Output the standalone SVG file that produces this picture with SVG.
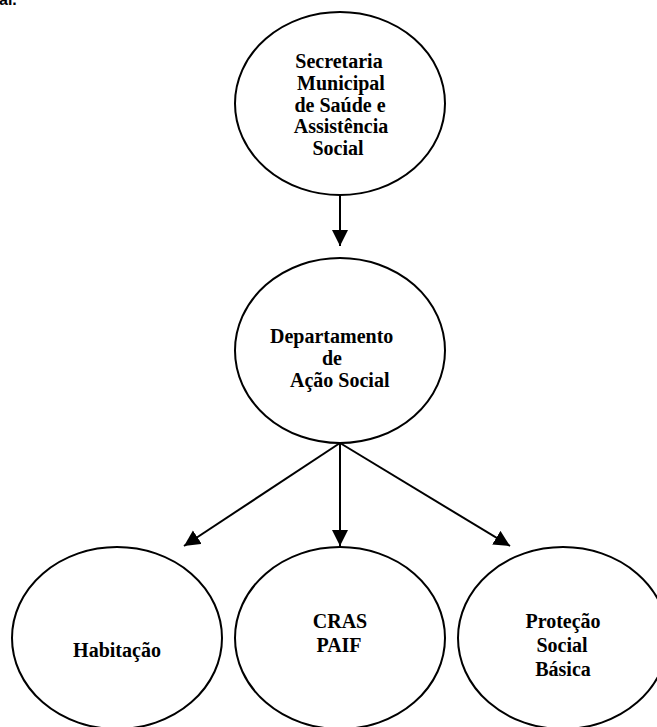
<svg xmlns="http://www.w3.org/2000/svg" width="657" height="727" viewBox="0 0 657 727">
<style>
.node ellipse{fill:#fff;stroke:#000;stroke-width:2}
.lbl{font-family:"Liberation Serif","Times New Roman",serif;font-weight:bold;font-size:20px;fill:#000}
.conn line{stroke:#000;stroke-width:2}
</style>
<defs>
<marker id="ah" markerUnits="userSpaceOnUse" markerWidth="17" markerHeight="17" refX="16" refY="8" orient="auto">
<path d="M0,0 L16,8 L0,16 z" fill="#000"/>
</marker>
</defs>
<rect width="657" height="727" fill="#fff"/>
<text x="-1" y="5" font-family="Liberation Sans, Arial, sans-serif" font-weight="bold" font-size="16">al.</text>
<g id="connectors" class="conn">
<line x1="340" y1="195" x2="340" y2="246" marker-end="url(#ah)"/>
<line x1="340" y1="443" x2="184" y2="546" marker-end="url(#ah)"/>
<line x1="340" y1="443" x2="340" y2="546" marker-end="url(#ah)"/>
<line x1="340" y1="443" x2="510" y2="546" marker-end="url(#ah)"/>
</g>
<g id="secretaria" class="node">
<ellipse cx="340" cy="103.5" rx="105" ry="91.5"/>
<text class="lbl" text-anchor="middle"><tspan x="339" y="68">Secretaria</tspan><tspan x="341" y="90">Municipal</tspan><tspan x="340" y="112">de Saúde e</tspan><tspan x="341" y="133">Assistência</tspan><tspan x="338" y="155">Social</tspan></text>
</g>
<g id="departamento" class="node">
<ellipse cx="340" cy="350.5" rx="105" ry="92.5"/>
<text class="lbl"><tspan x="270" y="343">Departamento</tspan><tspan x="322" y="365">de</tspan><tspan x="290" y="387">Ação Social</tspan></text>
</g>
<g id="habitacao" class="node">
<ellipse cx="117" cy="638" rx="105" ry="91"/>
<text class="lbl" text-anchor="middle" x="117" y="657">Habitação</text>
</g>
<g id="cras" class="node">
<ellipse cx="340" cy="638" rx="105" ry="91"/>
<text class="lbl" text-anchor="middle"><tspan x="340" y="628">CRAS</tspan><tspan x="339" y="652">PAIF</tspan></text>
</g>
<g id="protecao" class="node">
<ellipse cx="563" cy="638" rx="105" ry="91"/>
<text class="lbl" text-anchor="middle"><tspan x="563" y="628">Proteção</tspan><tspan x="562" y="652">Social</tspan><tspan x="563" y="676">Básica</tspan></text>
</g>
</svg>
